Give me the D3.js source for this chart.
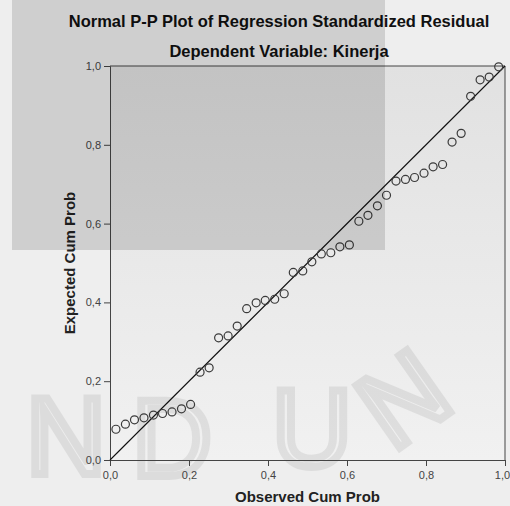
<!DOCTYPE html>
<html>
<head>
<meta charset="utf-8">
<script src="https://cdn.jsdelivr.net/npm/d3@7"></script>
<style>
  body { margin: 0; background: #eeeeee; }
  svg { display: block; }
</style>
</head>
<body>
<script>
// observed vs expected cumulative probabilities
var observedCumProb = [0.015, 0.039, 0.062, 0.086, 0.110, 0.133, 0.157, 0.181, 0.204, 0.228,
  0.251, 0.275, 0.299, 0.322, 0.346, 0.370, 0.393, 0.417, 0.441, 0.464,
  0.488, 0.511, 0.535, 0.559, 0.582, 0.606, 0.630, 0.653, 0.677, 0.700,
  0.724, 0.748, 0.771, 0.795, 0.818, 0.842, 0.866, 0.889, 0.913, 0.937,
  0.960, 0.984];
var expectedCumProb = [0.078, 0.091, 0.102, 0.107, 0.114, 0.118, 0.122, 0.130, 0.141, 0.223,
  0.234, 0.310, 0.315, 0.340, 0.384, 0.399, 0.405, 0.408, 0.422, 0.476,
  0.480, 0.503, 0.523, 0.526, 0.541, 0.546, 0.606, 0.621, 0.645, 0.672,
  0.708, 0.712, 0.717, 0.728, 0.744, 0.750, 0.807, 0.829, 0.923, 0.965,
  0.972, 0.998];
var tickValues = [0, 0.2, 0.4, 0.6, 0.8, 1.0];
var refLine = [0, 1];

var width = 510, height = 506;
var margin = {top: 66, right: 5, bottom: 46, left: 110};
var font = "Arial, 'Liberation Sans', sans-serif";

var svg = d3.select("body").append("svg")
  .attr("width", width)
  .attr("height", height)
  .style("font-family", font);

var defs = svg.append("defs");
var grad = defs.append("linearGradient")
  .attr("id", "plotBg")
  .attr("x1", 0).attr("y1", 0).attr("x2", 0).attr("y2", 1);
grad.append("stop").attr("offset", "0%").attr("stop-color", "#e1e1e1");
grad.append("stop").attr("offset", "100%").attr("stop-color", "#f1f1f1");

var x = d3.scaleLinear().domain([0, 1]).range([margin.left, width - margin.right]);
var y = d3.scaleLinear().domain([0, 1]).range([height - margin.bottom, margin.top]);

// plot background
svg.append("rect")
  .attr("x", x(0)).attr("y", y(1))
  .attr("width", x(1) - x(0)).attr("height", y(0) - y(1))
  .attr("fill", "url(#plotBg)");

// faint watermark letters behind the chart
var wm = [
  {t: "N", x: 66, y: 474, r: 0},
  {t: "D", x: 172, y: 476, r: 0},
  {t: "U", x: 312, y: 466, r: 0},
  {t: "N", x: 425, y: 430, r: -35}
];
svg.append("g").selectAll("text")
  .data(wm)
  .enter().append("text")
  .attr("transform", function(d) { return "translate(" + d.x + "," + d.y + ") rotate(" + d.r + ")"; })
  .attr("text-anchor", "middle")
  .style("font-size", "110px")
  .style("font-family", font)
  .attr("fill", "none")
  .attr("stroke", "#000")
  .attr("stroke-width", 8)
  .attr("opacity", 0.07)
  .text(function(d) { return d.t; });

// frame (top and right)
svg.append("path")
  .attr("d", "M" + x(0) + "," + y(1) + "H" + x(1) + "V" + y(0))
  .attr("fill", "none")
  .attr("stroke", "#444")
  .attr("stroke-width", 1);

var loc = d3.formatLocale({decimal: ",", thousands: ".", grouping: [3], currency: ["", ""]});
var fmt = loc.format(".1f");

var xAxis = d3.axisBottom(x).tickValues(tickValues).tickFormat(fmt).tickSizeOuter(0).tickSize(6).tickPadding(5);
var yAxis = d3.axisLeft(y).tickValues(tickValues).tickFormat(fmt).tickSizeOuter(0).tickSize(6).tickPadding(3);

var gx = svg.append("g")
  .attr("transform", "translate(0," + y(0) + ")")
  .call(xAxis);
var gy = svg.append("g")
  .attr("transform", "translate(" + x(0) + ",0)")
  .call(yAxis);

[gx, gy].forEach(function(g) {
  g.select(".domain").attr("stroke", "#444");
  g.selectAll(".tick line").attr("stroke", "#444");
  g.selectAll(".tick text")
    .attr("fill", "#444")
    .style("font-size", "11px")
    .style("font-family", font);
});
// keep the last x label inside the window
gx.selectAll(".tick text").filter(function(d) { return d === 1; }).attr("dx", -3);

// reference diagonal
var line = d3.line()
  .x(function(d) { return x(d); })
  .y(function(d) { return y(d); });
svg.append("path")
  .attr("d", line(refLine))
  .attr("fill", "none")
  .attr("stroke", "#111")
  .attr("stroke-width", 1.1);

// points
svg.append("g").selectAll("circle")
  .data(observedCumProb)
  .enter().append("circle")
  .attr("cx", function(d) { return x(d); })
  .attr("cy", function(d, i) { return y(expectedCumProb[i]); })
  .attr("r", 4)
  .attr("fill", "none")
  .attr("stroke", "#3a3a3a")
  .attr("stroke-width", 1.2);

// titles
svg.append("text")
  .attr("x", 279).attr("y", 27)
  .attr("text-anchor", "middle")
  .style("font-size", "16.5px").style("font-weight", "bold")
  .attr("fill", "#111")
  .text("Normal P-P Plot of Regression Standardized Residual");
svg.append("text")
  .attr("x", 279).attr("y", 57)
  .attr("text-anchor", "middle")
  .style("font-size", "16.5px").style("font-weight", "bold")
  .attr("fill", "#111")
  .text("Dependent Variable: Kinerja");

svg.append("text")
  .attr("x", (x(0) + x(1)) / 2).attr("y", 502)
  .attr("text-anchor", "middle")
  .style("font-size", "15px").style("font-weight", "bold")
  .attr("fill", "#222")
  .text("Observed Cum Prob");
svg.append("text")
  .attr("transform", "translate(75," + (y(0) + y(1)) / 2 + ") rotate(-90)")
  .attr("text-anchor", "middle")
  .style("font-size", "15px").style("font-weight", "bold")
  .attr("fill", "#222")
  .text("Expected Cum Prob");

// grey watermark block from the scanned source
svg.append("rect")
  .attr("x", 12).attr("y", 0)
  .attr("width", 373).attr("height", 250)
  .attr("fill", "#000").attr("opacity", 0.13)
  .style("pointer-events", "none");
</script>
</body>
</html>
